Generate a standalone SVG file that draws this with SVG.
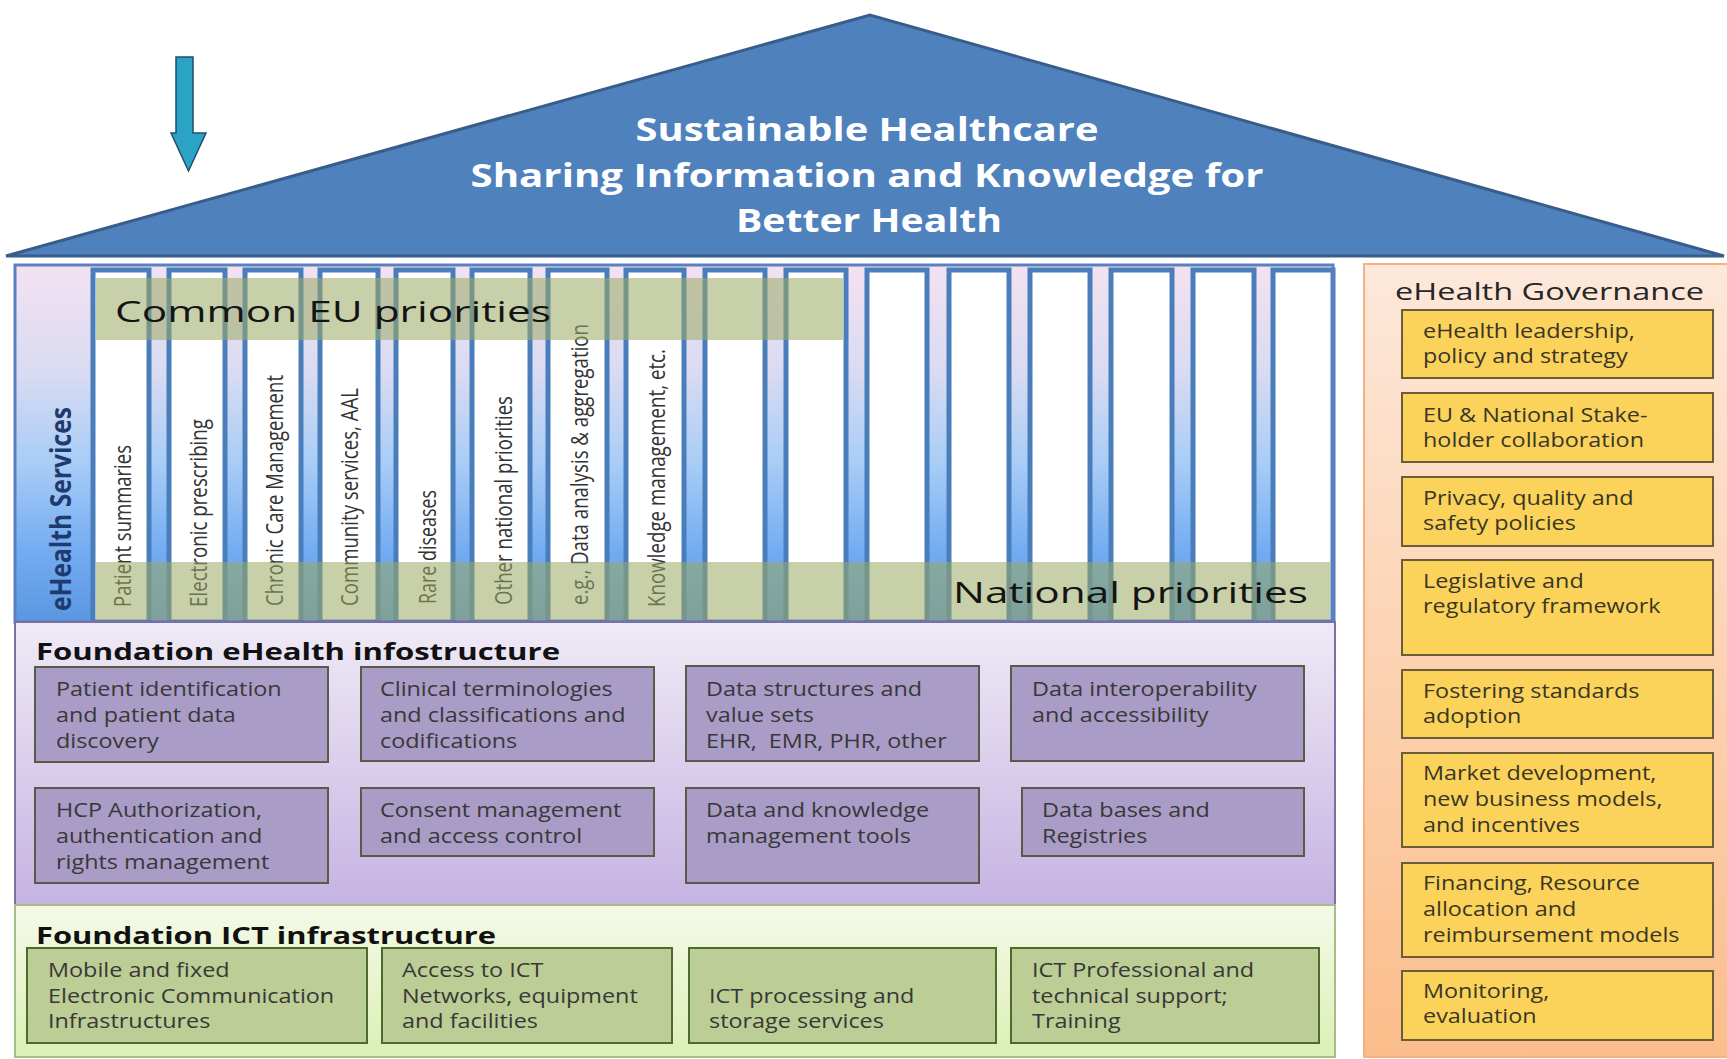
<svg xmlns="http://www.w3.org/2000/svg" width="1727" height="1059" viewBox="0 0 1727 1059">
<style>
.bt{font-family:"Open Sans","Liberation Sans",sans-serif;font-size:20px;fill:#383838}
.gt{font-family:"Open Sans","Liberation Sans",sans-serif;font-size:20px;fill:#3a3626}
.lbl{font-family:"Open Sans","Liberation Sans",sans-serif;font-size:20px;fill:#333}
.ttl{font-family:"Open Sans","Liberation Sans",sans-serif;font-weight:bold;font-size:24px;fill:#111}
.roof{font-family:"Open Sans","Liberation Sans",sans-serif;font-weight:bold;font-size:32px;fill:#fff;text-anchor:middle}
.band{font-family:"Open Sans","Liberation Sans",sans-serif;font-size:29px;fill:#141414}
.col{fill:#fff;stroke:#4a7ebb;stroke-width:5}
.ibox{fill:#a99cc6;stroke:#5a5a48;stroke-width:2}
.cbox{fill:#bccd95;stroke:#4d6b2e;stroke-width:2}
.gbox{fill:#fbd35a;stroke:#6b5d3a;stroke-width:2}
.bnd{fill:#9baa64;opacity:0.55}
</style>
<defs>
<linearGradient id="svcGrad" x1="0" y1="0" x2="0" y2="1">
<stop offset="0" stop-color="#f3e2f1"/>
<stop offset="0.3" stop-color="#d9dbf2"/>
<stop offset="0.55" stop-color="#a9cdf6"/>
<stop offset="0.8" stop-color="#74acf2"/>
<stop offset="1" stop-color="#5a96e0"/>
</linearGradient>
<linearGradient id="infoGrad" x1="0" y1="0" x2="0" y2="1">
<stop offset="0" stop-color="#efeaf6"/>
<stop offset="1" stop-color="#c5b3e2"/>
</linearGradient>
<linearGradient id="ictGrad" x1="0" y1="0" x2="0" y2="1">
<stop offset="0" stop-color="#f5fae8"/>
<stop offset="1" stop-color="#dcefb5"/>
</linearGradient>
<linearGradient id="govGrad" x1="0" y1="0" x2="0" y2="1">
<stop offset="0" stop-color="#fde8da"/>
<stop offset="1" stop-color="#fbbd8b"/>
</linearGradient>
</defs>
<rect width="1727" height="1059" fill="#fff"/>

<g id="roof">
<polygon points="6,256 870,15 1724,256" fill="#4f81bd" stroke="#385d8a" stroke-width="3"/>
<text class="roof" x="867" y="141" textLength="463" lengthAdjust="spacingAndGlyphs">Sustainable Healthcare</text>
<text class="roof" x="867" y="187" textLength="793" lengthAdjust="spacingAndGlyphs">Sharing Information and Knowledge for</text>
<text class="roof" x="869" y="232" textLength="266" lengthAdjust="spacingAndGlyphs">Better Health</text>
</g>

<g id="arrow">
<polygon points="176,57 193,57 193,133 206,133 188.5,171 171,133 176,133" fill="#2ba3c5" stroke="#1f4e6e" stroke-width="1.5"/>
</g>

<g id="services">
<rect x="15" y="265" width="1318" height="357" fill="url(#svcGrad)"/>
<rect class="col" x="93" y="270" width="56" height="352"/>
<rect class="col" x="169" y="270" width="56" height="352"/>
<rect class="col" x="245" y="270" width="56" height="352"/>
<rect class="col" x="320" y="270" width="58" height="352"/>
<rect class="col" x="396" y="270" width="57" height="352"/>
<rect class="col" x="472" y="270" width="58" height="352"/>
<rect class="col" x="548" y="270" width="59" height="352"/>
<rect class="col" x="626" y="270" width="58" height="352"/>
<rect class="col" x="705" y="270" width="60" height="352"/>
<rect class="col" x="786" y="270" width="60" height="352"/>
<rect class="col" x="867" y="270" width="60" height="352"/>
<rect class="col" x="949" y="270" width="60" height="352"/>
<rect class="col" x="1030" y="270" width="60" height="352"/>
<rect class="col" x="1111" y="270" width="61" height="352"/>
<rect class="col" x="1193" y="270" width="61" height="352"/>
<rect class="col" x="1273" y="270" width="60" height="352"/>
<text class="lbl" transform="translate(131,607) scale(1.19,1) rotate(-90)" textLength="162" lengthAdjust="spacingAndGlyphs">Patient summaries</text>
<text class="lbl" transform="translate(207,607) scale(1.19,1) rotate(-90)" textLength="188" lengthAdjust="spacingAndGlyphs">Electronic prescribing</text>
<text class="lbl" transform="translate(283,606) scale(1.19,1) rotate(-90)" textLength="231" lengthAdjust="spacingAndGlyphs">Chronic Care Management</text>
<text class="lbl" transform="translate(358,606) scale(1.19,1) rotate(-90)" textLength="218" lengthAdjust="spacingAndGlyphs">Community services, AAL</text>
<text class="lbl" transform="translate(436,604) scale(1.19,1) rotate(-90)" textLength="114" lengthAdjust="spacingAndGlyphs">Rare diseases</text>
<text class="lbl" transform="translate(512,605) scale(1.19,1) rotate(-90)" textLength="209" lengthAdjust="spacingAndGlyphs">Other national priorities</text>
<text class="lbl" transform="translate(588,605) scale(1.19,1) rotate(-90)" textLength="281" lengthAdjust="spacingAndGlyphs">e.g., Data analysis &amp; aggregation</text>
<text class="lbl" transform="translate(665,607) scale(1.19,1) rotate(-90)" textLength="258" lengthAdjust="spacingAndGlyphs">Knowledge management, etc.</text>
<rect class="bnd" x="96" y="278" width="747" height="62"/>
<rect class="bnd" x="96" y="562" width="1234" height="58"/>
<text class="band" x="115" y="322" textLength="436" lengthAdjust="spacingAndGlyphs">Common EU priorities</text>
<text class="band" x="953" y="603" textLength="355" lengthAdjust="spacingAndGlyphs">National priorities</text>
<text transform="translate(71,611) scale(1.19,1) rotate(-90)" font-family="Open Sans, Liberation Sans, sans-serif" font-weight="bold" font-size="24" fill="#1f3a6e" textLength="204" lengthAdjust="spacingAndGlyphs">eHealth Services</text>
<rect x="15" y="265" width="1318" height="357" fill="none" stroke="#5b7fc0" stroke-width="3"/>
</g>

<g id="infostructure">
<rect x="15" y="622" width="1320" height="283" fill="url(#infoGrad)" stroke="#7f6f9f" stroke-width="2"/>
<text class="ttl" x="36" y="660" textLength="524" lengthAdjust="spacingAndGlyphs">Foundation eHealth infostructure</text>
</g>
<g id="info-patient-id">
<rect class="ibox" x="35" y="667" width="293" height="95"/>
<g transform="matrix(1.17 0 0 1 56 0)"><text class="bt" y="696"><tspan x="0">Patient identification</tspan><tspan x="0" dy="26">and patient data</tspan><tspan x="0" dy="26">discovery</tspan></text></g>
</g>
<g id="info-terminologies">
<rect class="ibox" x="361" y="667" width="293" height="94"/>
<g transform="matrix(1.17 0 0 1 380 0)"><text class="bt" y="696"><tspan x="0">Clinical terminologies</tspan><tspan x="0" dy="26">and classifications and</tspan><tspan x="0" dy="26">codifications</tspan></text></g>
</g>
<g id="info-data-structures">
<rect class="ibox" x="686" y="666" width="293" height="95"/>
<g transform="matrix(1.17 0 0 1 706 0)"><text class="bt" y="696"><tspan x="0">Data structures and</tspan><tspan x="0" dy="26">value sets</tspan><tspan x="0" dy="26" xml:space="preserve">EHR,  EMR, PHR, other</tspan></text></g>
</g>
<g id="info-interop">
<rect class="ibox" x="1011" y="666" width="293" height="95"/>
<g transform="matrix(1.17 0 0 1 1032 0)"><text class="bt" y="696"><tspan x="0">Data interoperability</tspan><tspan x="0" dy="26">and accessibility</tspan></text></g>
</g>
<g id="info-hcp">
<rect class="ibox" x="35" y="788" width="293" height="95"/>
<g transform="matrix(1.17 0 0 1 56 0)"><text class="bt" y="817"><tspan x="0">HCP Authorization,</tspan><tspan x="0" dy="26">authentication and</tspan><tspan x="0" dy="26">rights management</tspan></text></g>
</g>
<g id="info-consent">
<rect class="ibox" x="361" y="788" width="293" height="68"/>
<g transform="matrix(1.17 0 0 1 380 0)"><text class="bt" y="817"><tspan x="0">Consent management</tspan><tspan x="0" dy="26">and access control</tspan></text></g>
</g>
<g id="info-knowledge-tools">
<rect class="ibox" x="686" y="788" width="293" height="95"/>
<g transform="matrix(1.17 0 0 1 706 0)"><text class="bt" y="817"><tspan x="0">Data and knowledge</tspan><tspan x="0" dy="26">management tools</tspan></text></g>
</g>
<g id="info-databases">
<rect class="ibox" x="1022" y="788" width="282" height="68"/>
<g transform="matrix(1.17 0 0 1 1042 0)"><text class="bt" y="817"><tspan x="0">Data bases and</tspan><tspan x="0" dy="26">Registries</tspan></text></g>
</g>

<g id="ict">
<rect x="15" y="905" width="1320" height="152" fill="url(#ictGrad)" stroke="#a5bd86" stroke-width="2"/>
<text class="ttl" x="36" y="944" textLength="460" lengthAdjust="spacingAndGlyphs">Foundation ICT infrastructure</text>
</g>
<g id="ict-mobile">
<rect class="cbox" x="27" y="948" width="340" height="95"/>
<g transform="matrix(1.17 0 0 1 48 0)"><text class="bt" y="977"><tspan x="0">Mobile and fixed</tspan><tspan x="0" dy="26">Electronic Communication</tspan><tspan x="0" dy="25">Infrastructures</tspan></text></g>
</g>
<g id="ict-access">
<rect class="cbox" x="382" y="948" width="290" height="95"/>
<g transform="matrix(1.17 0 0 1 402 0)"><text class="bt" y="977"><tspan x="0">Access to ICT</tspan><tspan x="0" dy="26">Networks, equipment</tspan><tspan x="0" dy="25">and facilities</tspan></text></g>
</g>
<g id="ict-processing">
<rect class="cbox" x="689" y="948" width="307" height="95"/>
<g transform="matrix(1.17 0 0 1 709 0)"><text class="bt" y="1003"><tspan x="0">ICT processing and</tspan><tspan x="0" dy="25">storage services</tspan></text></g>
</g>
<g id="ict-support">
<rect class="cbox" x="1011" y="948" width="308" height="95"/>
<g transform="matrix(1.17 0 0 1 1032 0)"><text class="bt" y="977"><tspan x="0">ICT Professional and</tspan><tspan x="0" dy="26">technical support;</tspan><tspan x="0" dy="25">Training</tspan></text></g>
</g>

<g id="governance">
<rect x="1364" y="264" width="366" height="793" fill="url(#govGrad)" stroke="#f4b183" stroke-width="2"/>
<text x="1395" y="300" font-family="Open Sans, Liberation Sans, sans-serif" font-size="24" fill="#262626" textLength="309" lengthAdjust="spacingAndGlyphs">eHealth Governance</text>
</g>
<g id="gov-leadership">
<rect class="gbox" x="1402" y="310" width="311" height="68"/>
<g transform="matrix(1.17 0 0 1 1423 0)"><text class="gt" y="338"><tspan x="0">eHealth leadership,</tspan><tspan x="0" dy="25">policy and strategy</tspan></text></g>
</g>
<g id="gov-stakeholder">
<rect class="gbox" x="1402" y="393" width="311" height="69"/>
<g transform="matrix(1.17 0 0 1 1423 0)"><text class="gt" y="422"><tspan x="0">EU &amp; National Stake-</tspan><tspan x="0" dy="25">holder collaboration</tspan></text></g>
</g>
<g id="gov-privacy">
<rect class="gbox" x="1402" y="477" width="311" height="69"/>
<g transform="matrix(1.17 0 0 1 1423 0)"><text class="gt" y="505"><tspan x="0">Privacy, quality and</tspan><tspan x="0" dy="25">safety policies</tspan></text></g>
</g>
<g id="gov-legislative">
<rect class="gbox" x="1402" y="560" width="311" height="95"/>
<g transform="matrix(1.17 0 0 1 1423 0)"><text class="gt" y="588"><tspan x="0">Legislative and</tspan><tspan x="0" dy="25">regulatory framework</tspan></text></g>
</g>
<g id="gov-standards">
<rect class="gbox" x="1402" y="670" width="311" height="68"/>
<g transform="matrix(1.17 0 0 1 1423 0)"><text class="gt" y="698"><tspan x="0">Fostering standards</tspan><tspan x="0" dy="25">adoption</tspan></text></g>
</g>
<g id="gov-market">
<rect class="gbox" x="1402" y="753" width="311" height="94"/>
<g transform="matrix(1.17 0 0 1 1423 0)"><text class="gt" y="780"><tspan x="0">Market development,</tspan><tspan x="0" dy="26">new business models,</tspan><tspan x="0" dy="26">and incentives</tspan></text></g>
</g>
<g id="gov-financing">
<rect class="gbox" x="1402" y="863" width="311" height="94"/>
<g transform="matrix(1.17 0 0 1 1423 0)"><text class="gt" y="890"><tspan x="0">Financing, Resource</tspan><tspan x="0" dy="26">allocation and</tspan><tspan x="0" dy="26">reimbursement models</tspan></text></g>
</g>
<g id="gov-monitoring">
<rect class="gbox" x="1402" y="971" width="311" height="69"/>
<g transform="matrix(1.17 0 0 1 1423 0)"><text class="gt" y="998"><tspan x="0">Monitoring,</tspan><tspan x="0" dy="25">evaluation</tspan></text></g>
</g>

<g id="connectors"></g>
</svg>
